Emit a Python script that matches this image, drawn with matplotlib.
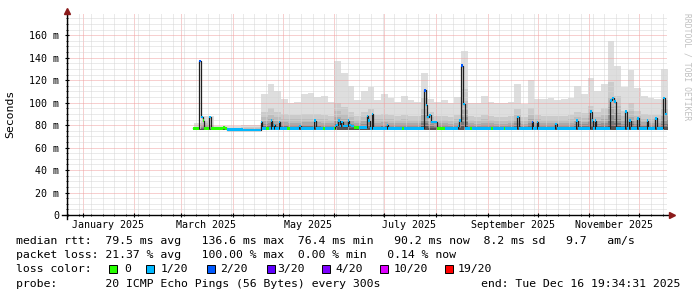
import numpy as np
import pandas as pd
import matplotlib
matplotlib.use("Agg")
import matplotlib.pyplot as plt
import matplotlib.dates as mdates
import matplotlib.transforms as mtransforms
from matplotlib.patches import Rectangle
from matplotlib.ticker import MultipleLocator, FixedLocator, FuncFormatter, NullFormatter

# =====[ Values ]=====
# time is given as days since 2025-01-01

median_day = [66.3, 70.0, 71.2, 72.0, 72.8, 75.8, 76.8, 84.4, 85.4, 86.5,
              96.0, 106.8, 107.6, 110.0, 111.6, 113.0, 113.8, 114.8, 115.5, 117.6,
              118.4, 122.5, 124.5, 130.0, 130.8, 139.0, 139.8, 144.0, 145.2, 150.5,
              151.5, 152.2, 153.4, 154.4, 155.2, 156.0, 159.0, 160.0, 161.0, 163.0,
              165.5, 170.4, 171.4, 172.2, 173.4, 174.4, 182.6, 183.4, 191.5, 192.5,
              204.6, 205.8, 206.8, 208.0, 209.0, 212.6, 217.5, 225.0, 226.0, 227.2,
              228.4, 229.2, 232.4, 233.8, 245.0, 246.0, 252.5, 253.5, 260.6, 261.8,
              269.4, 270.4, 272.4, 273.2, 283.6, 284.4, 296.0, 297.4, 304.6, 305.6,
              306.4, 307.4, 308.2, 316.4, 317.6, 319.0, 320.2, 325.6, 326.6, 328.0,
              328.8, 332.8, 333.6, 338.4, 339.4, 343.2, 344.8, 348.4, 349.4]
median_ms = [77, 137, 87, 84, 77, 87, 77, 78, 77, 76,
             75.5, 83, 77, 77, 77, 84, 77, 80, 77, 83,
             77, 77, 77, 79, 77, 84, 77, 77, 77, 77,
             79, 80, 84, 79, 83, 79, 84, 80, 79, 78,
             78, 88, 84, 77, 90, 77, 80, 77, 77, 77,
             111, 98, 87, 89, 83, 77, 77, 79, 84, 133,
             99, 77, 77, 77, 77, 77, 77, 77, 87, 77,
             83, 77, 83, 77, 81, 77, 84, 77, 92, 84,
             77, 84, 77, 102, 104, 101, 77, 92, 77, 84,
             77, 86, 77, 84, 77, 86, 77, 104, 90]
# lost pings class (index into loss_colors)
median_loss = [0, 2, 1, 0, 0, 1, 0, 0, 0, 1,
               1, 1, 1, 0, 1, 1, 1, 1, 1, 1,
               1, 0, 1, 1, 1, 1, 1, 0, 1, 0,
               1, 1, 1, 1, 1, 1, 1, 1, 1, 0,
               1, 1, 1, 1, 1, 1, 1, 1, 0, 1,
               2, 1, 1, 1, 1, 0, 1, 1, 1, 2,
               1, 1, 0, 1, 0, 1, 0, 1, 1, 1,
               2, 1, 1, 1, 1, 1, 1, 1, 1, 1,
               1, 1, 1, 1, 1, 1, 1, 1, 1, 1,
               1, 1, 1, 1, 1, 1, 1, 1, 1]
median_end_day = 350.6

# smoke (spread of the 20 pings), one value per 4 day bin
smoke_day = list(range(67, 348, 4))
smoke_max = [82, 88, 88, 79, 79, 79, 79, 80, 80, 80,
             108, 117, 110, 103, 100, 101, 108, 109, 105, 106, 101, 137, 126, 115,
             102, 110, 114, 102, 108, 104, 101, 106, 102, 101, 126, 103, 101, 102,
             100, 105, 146, 100, 100, 106, 101, 100, 100, 101,
             117, 99, 120, 103, 103, 104, 102, 103, 104, 115, 108, 122, 110, 117,
             155, 133, 114, 129, 113, 106, 104, 103, 130]
smoke_mid = [78, 84, 80, 77.5, 77.5, 77.5, 77.5, 78, 78, 78,
             92, 95, 92, 90, 89, 89, 90, 90, 90, 89, 88, 100, 96, 92,
             88, 92, 94, 89, 90, 89, 88, 89, 88, 88, 104, 92, 88, 88,
             87, 89, 112, 88, 87, 89, 88, 87, 87, 88,
             94, 87, 95, 89, 88, 88, 88, 88, 89, 92, 91, 97, 92, 95,
             118, 106, 93, 100, 93, 90, 89, 89, 102]
smoke_floor = 76.0

loss_labels = ["0", "1/20", "2/20", "3/20", "4/20", "10/20", "19/20"]
loss_colors = ["#26ff00", "#00b8ff", "#0059ff", "#5e00ff", "#7e00ff", "#dd00ff", "#ff0000"]

month_labels = ["January 2025", "March 2025", "May 2025", "July 2025",
                "September 2025", "November 2025"]
month_label_at = ["2025-01-16", "2025-03-16", "2025-05-16", "2025-07-16",
                  "2025-09-16", "2025-11-16"]
ytick_ms = [0, 20, 40, 60, 80, 100, 120, 140, 160]

rtt_line = ("median rtt:  79.5 ms avg   136.6 ms max  76.4 ms min   "
            "90.2 ms now  8.2 ms sd   9.7   am/s")
loss_line = "packet loss: 21.37 % avg   100.00 % max  0.00 % min   0.14 % now"
probe_line = "probe:       20 ICMP Echo Pings (56 Bytes) every 300s"
end_line = "end: Tue Dec 16 19:34:31 2025"

# =====[ Helpers ]=====
T0 = pd.Timestamp("2025-01-01")
W, H = 697, 297
MONO = "DejaVu Sans Mono"


def to_time(days):
    return (T0 + pd.to_timedelta(np.asarray(days, dtype=float), unit="D")).to_numpy()


def fx(px):
    return px / W


def fy(py):
    return 1 - py / H


# =====[ Figure ]=====
fig = plt.figure(figsize=(W / 100, H / 100), dpi=100)
fig.patch.set_facecolor("white")
ax = fig.add_axes([fx(67), fy(215), 600 / W, 202 / H])
ax.set_facecolor("white")

# smoke: light outer band, darker towards the median
s_t = to_time(smoke_day + [smoke_day[-1] + 4])
s_max = np.array(smoke_max + [smoke_max[-1]], dtype=float)
s_mid = np.array(smoke_mid + [smoke_mid[-1]], dtype=float)
ax.fill_between(s_t, smoke_floor, s_max, step="post", color="#dedede", lw=0, zorder=1)
shade_frac = [1.0, 0.7, 0.48, 0.32, 0.2, 0.1]
shades = ["#cbcbcb", "#bdbdbd", "#aaaaaa", "#939393", "#777777", "#555555"]
for frac, shade in zip(shade_frac, shades):
    top = smoke_floor + (s_mid - smoke_floor) * frac
    ax.fill_between(s_t, smoke_floor, top, step="post", color=shade, lw=0, zorder=1)

# median: black step line, loss coloured band on the flat parts
m_t = to_time(median_day + [median_end_day])
m_ms = median_ms + [median_ms[-1]]
ax.step(m_t, m_ms, where="post", color="#202020", lw=0.9, zorder=3)
half = 1.1
for i in range(len(median_day)):
    ax.fill_between(m_t[i:i + 2], median_ms[i] - half, median_ms[i] + half,
                    color=loss_colors[median_loss[i]], lw=0, zorder=4)

# axes limits, grid
ax.set_xlim(to_time([-9.4])[0], to_time([350.6])[0])
ax.set_ylim(0, 179.8)
ax.xaxis.set_major_locator(mdates.MonthLocator())
ax.xaxis.set_minor_locator(mdates.WeekdayLocator(byweekday=mdates.MO))
ax.xaxis.set_major_formatter(NullFormatter())
ax.yaxis.set_major_locator(FixedLocator(ytick_ms))
ax.yaxis.set_minor_locator(MultipleLocator(5))
ax.yaxis.set_major_formatter(FuncFormatter(lambda v, p: "0" if v == 0 else "%d m" % v))
ax.grid(which="minor", color="#d6d6d6", ls=(0, (1, 1)), lw=0.72, zorder=2)
ax.grid(which="major", color="#f0a0a0", ls=(0, (1, 1)), lw=0.72, zorder=2)
ax.set_axisbelow(False)
ax.tick_params(which="major", direction="inout", length=3, width=0.8, pad=4,
               labelsize=7.2, color="black")
ax.tick_params(which="minor", direction="inout", length=2, width=0.6, color="black")
for lab in ax.get_yticklabels():
    lab.set_family(MONO)
for sp in ax.spines.values():
    sp.set_visible(False)

# axis lines with arrows
ax.plot([-0.008, 1.003], [0, 0], transform=ax.transAxes, color="black", lw=1,
        clip_on=False, zorder=5)
ax.plot([0, 0], [-0.02, 1.0], transform=ax.transAxes, color="black", lw=1,
        clip_on=False, zorder=5)
ax.plot([1.008], [0], marker=">", ms=4.5, color="#8b1a1a", transform=ax.transAxes,
        clip_on=False, zorder=6)
ax.plot([0], [1.012], marker="^", ms=4.5, color="#8b1a1a", transform=ax.transAxes,
        clip_on=False, zorder=6)

# month labels
trans = mtransforms.blended_transform_factory(ax.transData, ax.transAxes)
for lab, day in zip(month_labels, month_label_at):
    ax.text(pd.Timestamp(day), -10 / 202, lab, transform=trans, ha="center", va="center",
            fontsize=7.2, family=MONO)

fig.text(fx(10), fy(114), "Seconds", rotation=90, ha="center", va="center",
         fontsize=8.25, family=MONO)
fig.text(fx(687), fy(67), "RRDTOOL / TOBI OETIKER", rotation=270, ha="center",
         va="center", fontsize=5.8, family=MONO, color="#c0c0c0")

# legend block
fs = 8.25
fig.text(fx(16.5), fy(241), rtt_line, ha="left", va="center", fontsize=fs, family=MONO)
fig.text(fx(16.5), fy(255.5), loss_line, ha="left", va="center", fontsize=fs, family=MONO)
fig.text(fx(16.5), fy(269), "loss color:", ha="left", va="center", fontsize=fs, family=MONO)
fig.text(fx(16.5), fy(284), probe_line, ha="left", va="center", fontsize=fs, family=MONO)
fig.text(fx(680.5), fy(284), end_line, ha="right", va="center", fontsize=fs, family=MONO)

box_x = [109, 146, 207, 266.5, 322, 379.5, 445]
text_x = [123.8, 160.9, 220.3, 277, 335.1, 393.2, 458]
for bx, tx, lab, col in zip(box_x, text_x, loss_labels, loss_colors):
    fig.patches.append(Rectangle((fx(bx), fy(273)), 8 / W, 8 / H, transform=fig.transFigure,
                                 facecolor=col, edgecolor="black", lw=0.7))
    fig.text(fx(tx), fy(269), lab, ha="left", va="center", fontsize=fs, family=MONO)

fig.savefig("out.png", dpi=100, facecolor="white")
